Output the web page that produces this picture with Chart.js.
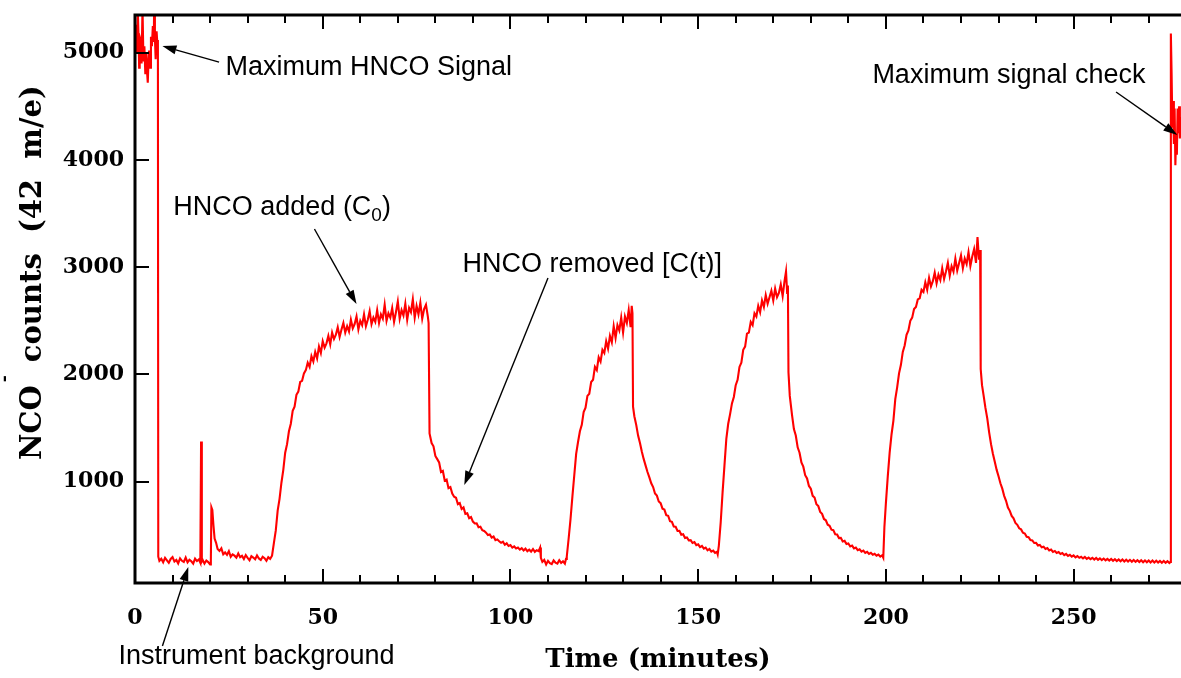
<!DOCTYPE html>
<html>
<head>
<meta charset="utf-8">
<script src="https://cdn.jsdelivr.net/npm/chart.js@4.4.1/dist/chart.umd.min.js"></script>
<style>
  html, body { margin: 0; padding: 0; background: #fff; }
  #wrap { width: 1181px; height: 678px; }
</style>
</head>
<body>
<div id="wrap"><canvas id="nco-chart" width="1181" height="678"></canvas></div>
<script>
// [minutes, NCO- counts] per phase of the run
const maxSignalStart = [[0,5020],[0.25,5260],[0.5,4990],[0.75,5380],[1,5080],[1.1,4860],[1.25,5150],[1.5,5120],[1.75,4900],[2,5420],[2.25,4920],[2.5,5060],[2.75,4800],[3,4990],[3.25,4800],[3.4,4720],[3.6,4930],[3.75,5020],[4,4860],[4.25,5150],[4.5,5060],[4.75,5250],[5,5100],[5.1,5420],[5.3,5140],[5.5,4940],[5.75,5200],[6,5060],[6.1,5120]];

const background = [[6.2,300],[6.5,262],[7,281],[7.5,248],[8,290],[8.5,266],[9,243],[9.5,279],[10,296],[10.5,255],[11,270],[11.5,238],[12,284],[12.5,262],[13,251],[13.5,292],[14,247],[14.5,271],[15,258],[15.5,236],[16,283],[16.5,260],[17,275],[17.4,244],[17.6,1375],[17.8,258],[18,272],[18.5,236],[19,265],[19.5,250],[20,228],[20.2,262],[20.35,760],[20.6,735],[20.9,590],[21.2,470],[21.6,430],[22,372],[22.5,355],[23,378],[23.5,322],[24,340],[24.5,318],[25,352],[25.5,300],[26,322],[26.5,310],[27,292],[27.5,330],[28,296],[28.5,308],[29,278],[29.5,315],[30,290],[30.5,268],[31,305],[31.5,292],[32,276],[32.5,312],[33,284],[33.5,270],[34,300],[34.5,286],[35,262],[35.5,296],[36,280]];

const run1Added = [[36.5,310],[37,430],[37.5,545],[38,730],[38.5,840],[39,990],[39.5,1110],[40,1270],[40.5,1350],[41,1470],[41.5,1540],[42,1660],[42.5,1700],[43,1810],[43.5,1840],[44,1930],[44.5,1940],[45,2010],[45.5,2040],[46,2110],[46.5,2070],[47,2170],[47.5,2120],[48,2210],[48.5,2150],[49,2260],[49.5,2200],[50,2310],[50.5,2250],[51,2290],[51.5,2360],[52,2280],[52.5,2390],[53,2330],[53.5,2370],[54,2440],[54.5,2350],[55,2420],[55.5,2480],[56,2390],[56.5,2450],[57,2400],[57.5,2510],[58,2430],[58.5,2470],[59,2540],[59.5,2420],[60,2500],[60.5,2460],[61,2560],[61.5,2450],[62,2510],[62.5,2590],[63,2470],[63.5,2530],[64,2490],[64.5,2600],[65,2480],[65.5,2560],[66,2520],[66.5,2650],[67,2500],[67.5,2570],[68,2530],[68.5,2620],[69,2490],[69.5,2580],[70,2680],[70.5,2520],[71,2600],[71.5,2550],[72,2660],[72.5,2510],[73,2620],[73.5,2580],[74,2700],[74.5,2530],[75,2640],[75.5,2560],[76,2670],[76.5,2520],[77,2610],[77.5,2650],[78,2540],[78.2,2480]];

const run1Removed = [[78.45,1450],[79,1360],[79.5,1330],[80,1240],[80.5,1210],[81,1180],[81.5,1090],[82,1100],[82.5,1010],[83,1020],[83.5,940],[84,950],[84.5,890],[85,860],[85.5,850],[86,790],[86.5,800],[87,745],[87.5,760],[88,700],[88.5,705],[89,660],[89.5,670],[90,628],[90.5,610],[91,612],[91.5,575],[92,580],[92.5,548],[93,540],[93.5,525],[94,502],[94.5,508],[95,478],[95.5,488],[96,455],[96.5,462],[97,445],[97.5,430],[98,440],[98.5,412],[99,425],[99.5,400],[100,408],[100.5,385],[101,396],[101.5,378],[102,386],[102.5,366],[103,380],[103.5,358],[104,375],[104.5,352],[105,366],[105.5,348],[106,372],[106.5,345],[107,360],[107.5,352],[107.9,385],[108.1,290],[108.5,252],[109,270],[109.5,228],[110,262],[110.5,240],[111,232],[111.5,265],[112,244],[112.5,236],[113,268],[113.5,242],[114,258],[114.5,236],[114.8,280]];

const run2Added = [[115,300],[115.5,470],[116,650],[116.5,860],[117,1060],[117.5,1260],[118,1370],[118.5,1470],[119,1530],[119.5,1650],[120,1690],[120.5,1800],[121,1820],[121.5,1930],[122,1950],[122.5,2070],[123,2040],[123.5,2160],[124,2120],[124.5,2230],[125,2200],[125.5,2310],[126,2240],[126.5,2360],[127,2300],[127.5,2450],[128,2340],[128.5,2460],[129,2410],[129.5,2530],[130,2390],[130.5,2540],[131,2480],[131.5,2600],[132,2440],[132.3,2640],[132.5,2570]];

const run2Removed = [[132.65,1700],[133,1610],[133.5,1530],[134,1430],[134.5,1360],[135,1280],[135.5,1210],[136,1150],[136.5,1090],[137,1040],[137.5,985],[138,950],[138.5,890],[139,870],[139.5,815],[140,800],[140.5,748],[141,740],[141.5,688],[142,682],[142.5,632],[143,625],[143.5,582],[144,580],[144.5,540],[145,542],[145.5,505],[146,510],[146.5,475],[147,480],[147.5,452],[148,455],[148.5,428],[149,436],[149.5,408],[150,416],[150.5,390],[151,400],[151.5,375],[152,385],[152.5,360],[153,372],[153.5,348],[154,358],[154.5,335],[155,345],[155.2,322]];

const run3Added = [[155.5,400],[156,620],[156.5,900],[157,1150],[157.5,1400],[158,1540],[158.5,1630],[159,1730],[159.5,1790],[160,1900],[160.5,1950],[161,2070],[161.5,2110],[162,2230],[162.5,2260],[163,2380],[163.5,2390],[164,2490],[164.5,2460],[165,2570],[165.5,2540],[166,2640],[166.5,2580],[167,2690],[167.5,2630],[168,2740],[168.5,2660],[169,2720],[169.5,2780],[170,2690],[170.5,2800],[171,2720],[171.5,2760],[172,2840],[172.5,2730],[173,2870],[173.4,2960],[173.7,2760],[173.9,2830]];

const run3Removed = [[174.05,2020],[174.4,1800],[175,1620],[175.5,1490],[176,1430],[176.5,1320],[177,1270],[177.5,1180],[178,1140],[178.5,1060],[179,1030],[179.5,960],[180,935],[180.5,868],[181,852],[181.5,790],[182,772],[182.5,718],[183,700],[183.5,652],[184,640],[184.5,598],[185,588],[185.5,552],[186,548],[186.5,510],[187,508],[187.5,474],[188,476],[188.5,442],[189,448],[189.5,418],[190,424],[190.5,396],[191,404],[191.5,378],[192,386],[192.5,362],[193,370],[193.5,348],[194,358],[194.5,336],[195,346],[195.5,326],[196,336],[196.5,318],[197,328],[197.5,310],[198,320],[198.5,302],[199,314],[199.3,292]];

const run4Added = [[199.6,575],[200,800],[200.5,1050],[201,1270],[201.5,1440],[202,1570],[202.5,1770],[203,1880],[203.5,2010],[204,2090],[204.5,2210],[205,2270],[205.5,2370],[206,2410],[206.5,2500],[207,2530],[207.5,2610],[208,2630],[208.5,2700],[209,2710],[209.5,2790],[210,2770],[210.5,2860],[211,2790],[211.5,2900],[212,2820],[212.5,2870],[213,2950],[213.5,2850],[214,2930],[214.5,2880],[215,2990],[215.5,2890],[216,2960],[216.5,3040],[217,2920],[217.5,3010],[218,2960],[218.5,3080],[219,2970],[219.5,3040],[220,3110],[220.5,2990],[221,3080],[221.5,3030],[222,3140],[222.5,3010],[223,3100],[223.5,3170],[224,3040],[224.4,3280],[224.8,3070],[225.1,3160]];

const run4Removed = [[225.25,2050],[225.6,1900],[226,1810],[226.5,1690],[227,1590],[227.5,1460],[228,1350],[228.5,1260],[229,1185],[229.5,1110],[230,1050],[230.5,985],[231,935],[231.5,868],[232,822],[232.5,758],[233,728],[233.5,680],[234,658],[234.5,615],[235,598],[235.5,565],[236,555],[236.5,524],[237,516],[237.5,486],[238,482],[238.5,456],[239,452],[239.5,428],[240,430],[240.5,405],[241,410],[241.5,388],[242,394],[242.5,372],[243,380],[243.5,358],[244,366],[244.5,345],[245,354],[245.5,335],[246,343],[246.5,325],[247,334],[247.5,315],[248,326],[248.5,307],[249,318],[249.5,300],[250,312],[250.5,294],[251,306],[251.5,290],[252,300],[252.5,284],[253,298],[253.5,280],[254,292],[254.5,277],[255,290],[255.5,274],[256,288],[256.5,271],[257,285],[257.5,268],[258,283],[258.5,266],[259,280],[259.5,264],[260,279],[260.5,262],[261,277],[261.5,260],[262,275],[262.5,258],[263,274],[263.5,256],[264,272],[264.5,255],[265,271],[265.5,253],[266,270],[266.5,252],[267,268],[267.5,251],[268,267],[268.5,249],[269,266],[269.5,248],[270,265],[270.5,247],[271,264],[271.5,246],[272,262],[272.5,245],[273,261],[273.5,244],[274,260],[274.5,243],[275,258],[275.5,242],[275.8,252]];

const maxSignalCheck = [[275.9,5180],[276.1,4800],[276.3,4300],[276.5,4550],[276.7,4150],[276.9,4480],[277.1,3950],[277.3,4250],[277.5,4050],[277.7,4480],[277.9,4250],[278.1,4500],[278.3,4200],[278.5,4400],[278.7,4250],[278.9,4350]];

const xTickValues = [0, 50, 100, 150, 200, 250];
const yTickValues = [1000, 2000, 3000, 4000, 5000];

// labels + arrows, anchored in data units [minutes, counts]
const notes = [
  { parts: [['Maximum HNCO Signal']], at: [24.1, 4866], from: [22.4, 4912], to: [7.3, 5063] },
  { parts: [['Maximum signal check']], at: [196.4, 4792], from: [261.3, 4634], to: [277.6, 4233] },
  { parts: [['HNCO added (C'], ['0', 'sub'], [')']], at: [10.2, 3552], from: [47.8, 3356], to: [59.0, 2656] },
  { parts: [['HNCO removed [C(t)]']], at: [87.2, 3021], from: [110.0, 2899], to: [87.7, 969] },
  { parts: [['Instrument background']], at: [-4.4, -635], from: [7.3, -532], to: [14.2, 204] }
];

const series = [
  maxSignalStart, background,
  run1Added, run1Removed, run2Added, run2Removed,
  run3Added, run3Removed, run4Added, run4Removed,
  maxSignalCheck
].flat().map(([t, c]) => ({ x: t, y: c }));

function drawArrow(ctx, x1, y1, x2, y2) {
  const ang = Math.atan2(y2 - y1, x2 - x1);
  const len = 14, half = 4.5;
  const bx = x2 - len * Math.cos(ang), by = y2 - len * Math.sin(ang);
  ctx.beginPath();
  ctx.moveTo(x1, y1);
  ctx.lineTo(bx, by);
  ctx.stroke();
  ctx.beginPath();
  ctx.moveTo(x2, y2);
  ctx.lineTo(bx + half * Math.sin(ang), by - half * Math.cos(ang));
  ctx.lineTo(bx - half * Math.sin(ang), by + half * Math.cos(ang));
  ctx.closePath();
  ctx.fill();
}

const frameAndNotes = {
  id: 'frameAndNotes',
  afterDatasetsDraw(chart) {
    const { ctx, chartArea: a, scales: { x, y } } = chart;
    ctx.save();
    ctx.strokeStyle = '#000';
    ctx.fillStyle = '#000';

    // frame: top, left, bottom (right edge runs off the canvas)
    ctx.lineWidth = 3;
    ctx.beginPath();
    ctx.moveTo(a.right + 4, a.top);
    ctx.lineTo(a.left, a.top);
    ctx.lineTo(a.left, a.bottom);
    ctx.lineTo(a.right + 4, a.bottom);
    ctx.stroke();

    // inward ticks
    ctx.lineWidth = 2;
    ctx.beginPath();
    for (let t = 10; t < x.max; t += 10) {
      const px = Math.round(x.getPixelForValue(t));
      const len = t % 50 === 0 ? 14 : 8;
      ctx.moveTo(px, a.bottom); ctx.lineTo(px, a.bottom - len);
      ctx.moveTo(px, a.top); ctx.lineTo(px, a.top + len);
    }
    for (const v of yTickValues) {
      const py = Math.round(y.getPixelForValue(v));
      ctx.moveTo(a.left, py); ctx.lineTo(a.left + 14, py);
    }
    ctx.stroke();

    // y axis title, rotated, with superscript minus
    ctx.save();
    ctx.translate(41, 460);
    ctx.rotate(-Math.PI / 2);
    ctx.textBaseline = 'alphabetic';
    ctx.textAlign = 'left';
    ctx.font = 'bold 29px "DejaVu Serif"';
    ctx.fillText('NCO', 0, 0);
    const wNco = ctx.measureText('NCO').width;
    ctx.font = 'bold 17px "DejaVu Serif"';
    ctx.fillText('-', wNco + 3, -32);
    ctx.font = 'bold 29px "DejaVu Serif"';
    ctx.fillText('counts  (42  m/e)', wNco + 23, 0);
    ctx.restore();

    // annotations
    ctx.lineWidth = 1.4;
    ctx.textBaseline = 'middle';
    ctx.textAlign = 'left';
    for (const n of notes) {
      let cx = x.getPixelForValue(n.at[0]);
      const cy = y.getPixelForValue(n.at[1]);
      for (const [s, kind] of n.parts) {
        ctx.font = kind === 'sub' ? '19px "Liberation Sans"' : '27px "Liberation Sans"';
        ctx.fillText(s, cx, kind === 'sub' ? cy + 8 : cy);
        cx += ctx.measureText(s).width;
      }
      drawArrow(ctx,
        x.getPixelForValue(n.from[0]), y.getPixelForValue(n.from[1]),
        x.getPixelForValue(n.to[0]), y.getPixelForValue(n.to[1]));
    }
    ctx.restore();
  }
};

const tickFont = { family: 'DejaVu Serif', size: 22, weight: 'bold' };

// drop the label overhang padding so the plot box keeps its exact place
function fixBox(s, size) {
  if (s.isHorizontal()) s.height = size; else s.width = size;
  s.paddingTop = 0; s.paddingBottom = 0; s.paddingLeft = 0; s.paddingRight = 0;
}

new Chart(document.getElementById('nco-chart'), {
  type: 'line',
  data: {
    datasets: [{
      data: series,
      borderColor: '#ff0000',
      borderWidth: 2.1,
      pointRadius: 0,
      tension: 0,
      fill: false
    }]
  },
  options: {
    responsive: false,
    animation: false,
    layout: { padding: { top: 15, right: 0, bottom: 0, left: 0 } },
    plugins: { legend: { display: false }, tooltip: { enabled: false } },
    scales: {
      x: {
        type: 'linear',
        min: 0,
        max: 278.6,
        grid: { display: false, drawTicks: false },
        border: { display: false },
        afterBuildTicks: s => { s.ticks = xTickValues.map(v => ({ value: v })); },
        afterFit: s => fixBox(s, 95),
        ticks: { font: tickFont, color: '#000', padding: 22, maxRotation: 0, callback: v => String(v) },
        title: {
          display: true,
          text: 'Time (minutes)',
          color: '#000',
          font: { family: 'DejaVu Serif', size: 26, weight: 'bold' },
          padding: { top: 0, bottom: 2 }
        }
      },
      y: {
        type: 'linear',
        min: 55,
        max: 5352,
        grid: { display: false, drawTicks: false },
        border: { display: false },
        afterBuildTicks: s => { s.ticks = yTickValues.map(v => ({ value: v })); },
        afterFit: s => fixBox(s, 135),
        ticks: { font: tickFont, color: '#000', padding: 11, callback: v => String(v) }
      }
    }
  },
  plugins: [frameAndNotes]
});
</script>
</body>
</html>
